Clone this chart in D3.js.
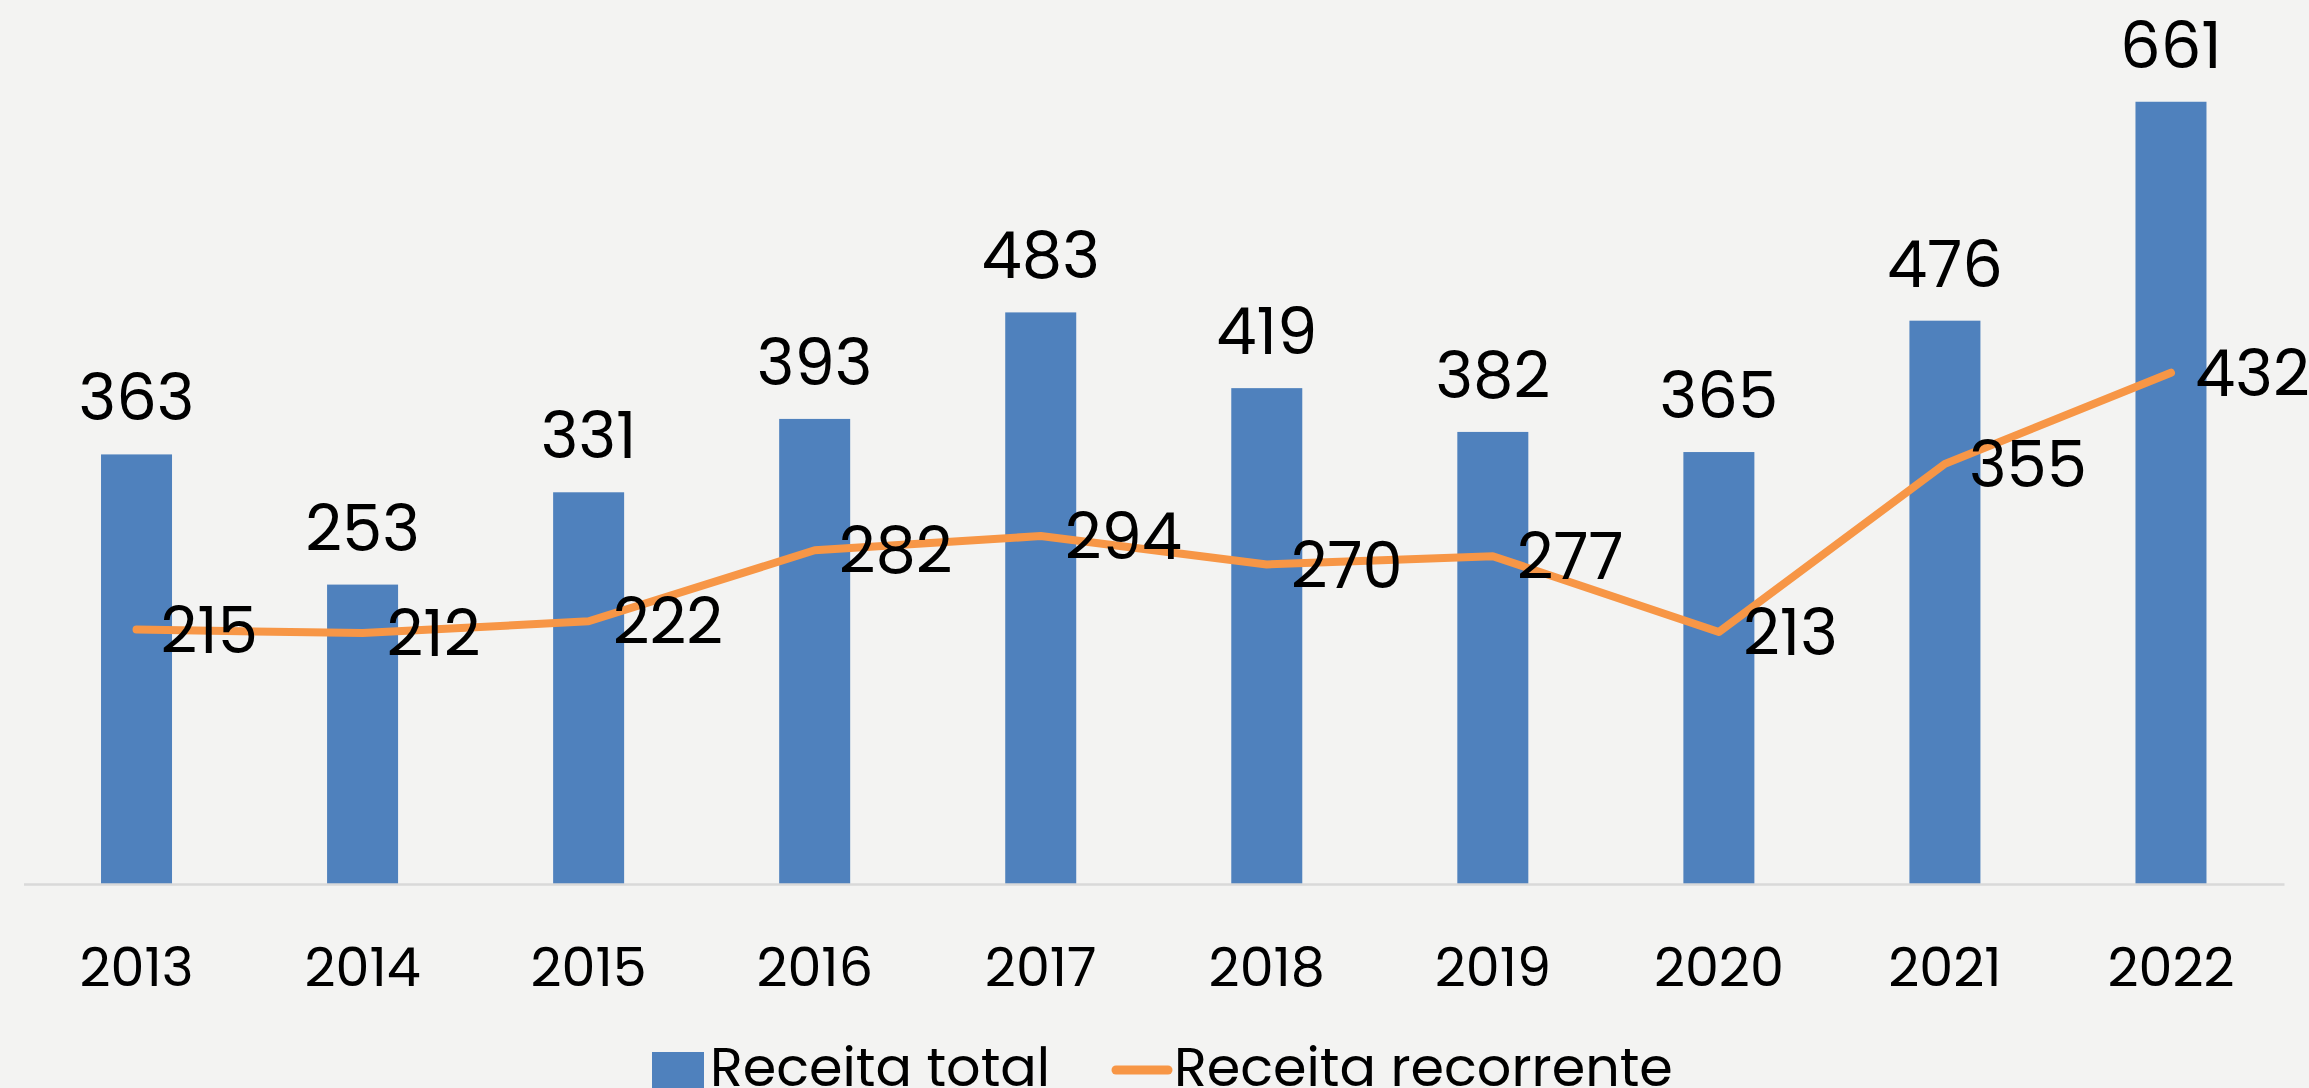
<!DOCTYPE html>
<html>
<head>
<meta charset="utf-8">
<script src="https://cdn.jsdelivr.net/npm/d3@7"></script>
<style>
  html, body { margin: 0; padding: 0; background: #f3f3f2; overflow: hidden; }
  svg { display: block; }
</style>
</head>
<body>
<div id="chart"></div>
<script>
// chart data
const years = ["2013", "2014", "2015", "2016", "2017", "2018", "2019", "2020", "2021", "2022"];
const receitaTotal = [363, 253, 331, 393, 483, 419, 382, 365, 476, 661];
const receitaRecorrente = [215, 212, 222, 282, 294, 270, 277, 213, 355, 432];
const seriesNames = ["Receita total", "Receita recorrente"];

const width = 2309;
const height = 1088;
const font = "Poppins, Inter, 'Noto Sans', sans-serif";

const svg = d3.select("#chart")
    .append("svg")
    .attr("width", width)
    .attr("height", height);

svg.append("rect")
    .attr("width", width)
    .attr("height", height)
    .attr("fill", "#f3f3f2");

// scales
const x = d3.scaleBand()
    .domain(years)
    .range([23.5, 2284])
    .paddingInner(0)
    .paddingOuter(0);

const y = d3.scaleLinear()
    .domain([0, 700])
    .range([884, 55.6]);

const barW = 71;
const cx = d => x(d) + x.bandwidth() / 2;

// bars
svg.selectAll("rect.bar")
    .data(years)
    .enter().append("rect")
    .attr("class", "bar")
    .attr("x", d => cx(d) - barW / 2)
    .attr("y", (d, i) => y(receitaTotal[i]))
    .attr("width", barW)
    .attr("height", (d, i) => y(0) - y(receitaTotal[i]))
    .attr("fill", "#4f81bd");

// x axis line + labels
const xAxis = d3.axisBottom(x).tickSize(0).tickPadding(0);
const gx = svg.append("g")
    .attr("transform", `translate(0,${y(0)})`)
    .call(xAxis);
gx.select(".domain")
    .attr("stroke", "#d9d9d9")
    .attr("stroke-width", 2.5);
gx.selectAll("text")
    .attr("y", 83)
    .attr("dy", "0.35em")
    .style("font-family", font)
    .style("font-size", "54px")
    .attr("fill", "#000");

// recurring revenue line
const line = d3.line()
    .x((d, i) => cx(years[i]))
    .y(d => y(d));

svg.append("path")
    .datum(receitaRecorrente)
    .attr("d", line)
    .attr("fill", "none")
    .attr("stroke", "#f79646")
    .attr("stroke-width", 8)
    .attr("stroke-linejoin", "round")
    .attr("stroke-linecap", "round");

// bar value labels
svg.selectAll("text.barlabel")
    .data(years)
    .enter().append("text")
    .attr("class", "barlabel")
    .attr("x", d => cx(d))
    .attr("y", (d, i) => y(receitaTotal[i]) - 34)
    .attr("text-anchor", "middle")
    .style("font-family", font)
    .style("font-size", "64px")
    .text((d, i) => receitaTotal[i]);

// line value labels
svg.selectAll("text.linelabel")
    .data(years)
    .enter().append("text")
    .attr("class", "linelabel")
    .attr("x", d => cx(d) + 24)
    .attr("y", (d, i) => y(receitaRecorrente[i]))
    .attr("dy", "0.36em")
    .attr("text-anchor", "start")
    .style("font-family", font)
    .style("font-size", "64px")
    .text((d, i) => receitaRecorrente[i]);

// legend
const legend = svg.append("g").attr("class", "legend");

legend.append("rect")
    .attr("x", 652)
    .attr("y", 1052)
    .attr("width", 52)
    .attr("height", 52)
    .attr("fill", "#4f81bd");

legend.append("text")
    .attr("x", 710)
    .attr("y", 1086)
    .style("font-family", font)
    .style("font-size", "54px")
    .text(seriesNames[0]);

legend.append("line")
    .attr("x1", 1116)
    .attr("x2", 1168)
    .attr("y1", 1070)
    .attr("y2", 1070)
    .attr("stroke", "#f79646")
    .attr("stroke-width", 9)
    .attr("stroke-linecap", "round");

legend.append("text")
    .attr("x", 1174)
    .attr("y", 1086)
    .style("font-family", font)
    .style("font-size", "54px")
    .text(seriesNames[1]);
</script>
</body>
</html>
